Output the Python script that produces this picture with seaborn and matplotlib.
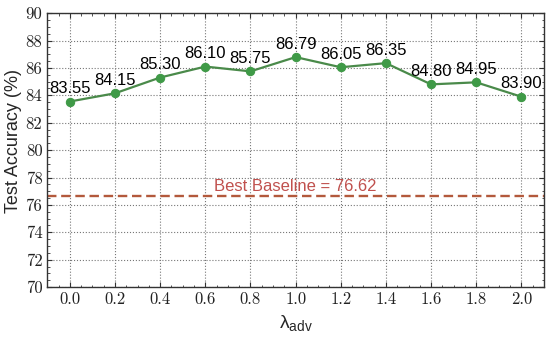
import matplotlib
matplotlib.use("Agg")
import matplotlib.pyplot as plt
import seaborn as sns
import pandas as pd
from matplotlib.ticker import MultipleLocator

lambdas = [0.0, 0.2, 0.4, 0.6, 0.8, 1.0, 1.2, 1.4, 1.6, 1.8, 2.0]
accuracy = [83.55, 84.15, 85.30, 86.10, 85.75, 86.79, 86.05, 86.35, 84.80, 84.95, 83.90]
baseline = 76.62

sns.set_theme(style="ticks")
plt.rcParams['font.family'] = ['Liberation Sans', 'DejaVu Sans']
plt.rcParams['mathtext.fontset'] = 'custom'
plt.rcParams['mathtext.rm'] = 'Liberation Sans'
plt.rcParams['mathtext.it'] = 'Liberation Sans:italic'

df = pd.DataFrame({"lam": lambdas, "acc": accuracy})

fig = plt.figure(figsize=(5.5, 3.37), dpi=100)
ax = fig.add_axes([0.086, 0.148, 0.903, 0.813])

ax.axhline(baseline, color="#b3593c", ls=(0, (4, 2)), lw=1.7, zorder=2)
ax.text(1.0, baseline + 0.2, f"Best Baseline = {baseline:.2f}", color="#c0504d",
        ha="center", va="bottom", fontsize=12)

sns.lineplot(data=df, x="lam", y="acc", ax=ax, color="#4a8a4a", lw=1.6,
             marker="o", markersize=6, markerfacecolor="#3f9a47",
             markeredgecolor="#3f9a47", zorder=3)

for x, y in zip(lambdas, accuracy):
    ax.annotate(f"{y:.2f}", (x, y), xytext=(0, 4), textcoords="offset points",
                ha="center", va="bottom", fontsize=12, color="black")

ax.set_xlim(-0.1, 2.1)
ax.set_ylim(70, 90)
ax.xaxis.set_major_locator(MultipleLocator(0.2))
ax.xaxis.set_minor_locator(MultipleLocator(0.05))
ax.yaxis.set_major_locator(MultipleLocator(2))
ax.yaxis.set_minor_locator(MultipleLocator(0.5))
ax.grid(True, which="major", ls=":", color="#777777", lw=0.8)
ax.tick_params(which="both", direction="in", top=True, right=True, colors="#333333")
ax.tick_params(which="major", length=3.5, width=0.8)
ax.tick_params(which="minor", length=1.8, width=0.6)
ax.set_xticks(lambdas)
ax.set_xticklabels([f"{v:.1f}" for v in lambdas], fontfamily="cmr10", fontsize=12, color="#222222")
yt = list(range(70, 91, 2))
ax.set_yticks(yt)
ax.set_yticklabels([str(v) for v in yt], fontfamily="cmr10", fontsize=12, color="#222222")
for s in ax.spines.values():
    s.set_color("#333333")
    s.set_linewidth(1.0)

ax.set_xlabel("λ$_{\\mathrm{adv}}$", fontsize=14, labelpad=4)
ax.set_ylabel("Test Accuracy (%)", fontsize=13)
ax.yaxis.set_label_coords(-0.05, 0.535)

fig.savefig("out.png", dpi=100)
